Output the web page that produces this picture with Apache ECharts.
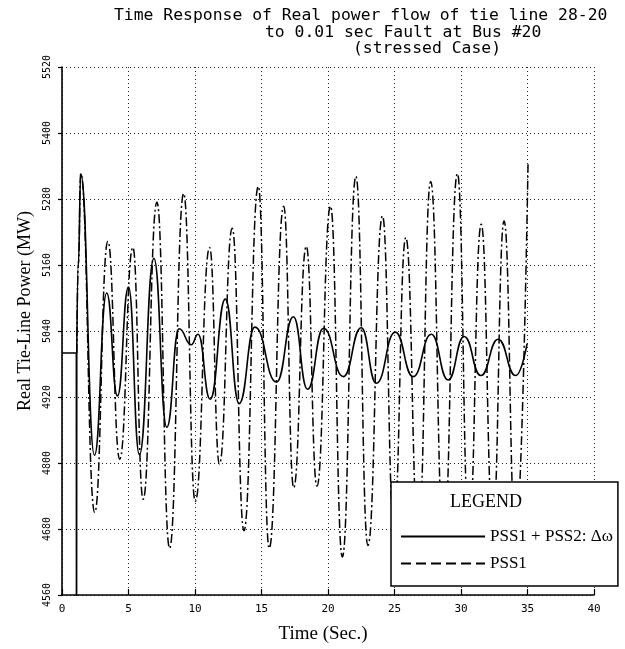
<!DOCTYPE html>
<html>
<head>
<meta charset="utf-8">
<script src="https://cdn.jsdelivr.net/npm/echarts@6/dist/echarts.min.js"></script>
<style>html,body{margin:0;padding:0;background:#fff;}#c{width:625px;height:649px;}</style>
</head>
<body>
<div id="c"></div>
<script>
// ---- data ----
const xTicks = [0, 5, 10, 15, 20, 25, 30, 35, 40];
const yTicks = [4560, 4680, 4800, 4920, 5040, 5160, 5280, 5400, 5520];

// common pre-fault / fault segment (both cases)
const faultTime  = [0, 1.08, 1.09, 1.10, 1.11];
const faultValue = [5000, 5000, 4300, 4300, 5000];

// PSS1 + PSS2 : delta omega (solid)
const pss12Time  = [1.11, 1.23, 1.41, 2.44, 3.36, 4.17, 5.00, 5.82, 6.91, 7.88, 8.80, 9.72, 10.23, 11.14, 12.28, 13.32, 14.50, 16.13, 17.40, 18.46, 19.66, 21.15, 22.50, 23.63, 25.06, 26.40, 27.77, 29.03, 30.24, 31.49, 32.79, 34.11, 34.97];
const pss12Value = [5000, 5162, 5326, 4814, 5109, 4922, 5120, 4815, 5172, 4865, 5044, 5015, 5034, 4916, 5098, 4908, 5047, 4947, 5066, 4934, 5045, 4957, 5046, 4945, 5038, 4957, 5034, 4951, 5030, 4959, 5025, 4959, 5017];

// PSS1 only (dash-dot)
const pss1Time  = [1.11, 1.23, 1.41, 2.46, 3.45, 4.34, 5.33, 6.10, 7.14, 8.09, 9.15, 10.02, 11.10, 11.84, 12.80, 13.68, 14.76, 15.58, 16.67, 17.42, 18.37, 19.17, 20.19, 21.08, 22.10, 23.00, 24.10, 24.95, 25.85, 26.80, 27.72, 28.70, 29.73, 30.60, 31.52, 32.40, 33.24, 34.10, 35.04];
const pss1Value = [5000, 5162, 5326, 4710, 5203, 4807, 5192, 4734, 5274, 4645, 5290, 4730, 5192, 4798, 5227, 4677, 5303, 4645, 5267, 4755, 5194, 4758, 5267, 4629, 5321, 4650, 5249, 4690, 5210, 4670, 5312, 4660, 5326, 4680, 5234, 4690, 5240, 4670, 5343];

const titleLines = ['Time Response of Real power flow of tie line 28-20', 'to 0.01 sec Fault at Bus #20', '(stressed Case)'];
const seriesNames = ['PSS1 + PSS2: \u0394\u03c9', 'PSS1'];

const zip = (a, b) => a.map((v, i) => [v, b[i]]);

const chart = echarts.init(document.getElementById('c'));
const monoTitle = {fontFamily: 'DejaVu Sans Mono', fontSize: 16.4, fontWeight: 'normal', color: '#000'};
const serif = 'Liberation Serif';

chart.setOption({
  animation: false,
  backgroundColor: '#fff',
  title: [
    {text: titleLines[0], left: 114, top: 8, padding: 0, textStyle: monoTitle},
    {text: titleLines[1], left: 265, top: 25, padding: 0, textStyle: monoTitle},
    {text: titleLines[2], left: 353, top: 41, padding: 0, textStyle: monoTitle},
    {text: 'LEGEND', left: 450, top: 493, padding: 0, z: 20,
     textStyle: {fontFamily: serif, fontSize: 18, fontWeight: 'normal', color: '#000'}}
  ],
  grid: {left: 62, right: 31, top: 67, bottom: 53, containLabel: false},
  xAxis: {
    type: 'value', min: xTicks[0], max: xTicks[xTicks.length - 1], interval: 5,
    name: 'Time (Sec.)', nameLocation: 'middle', nameGap: 30,
    nameTextStyle: {fontFamily: serif, fontSize: 19, color: '#000', padding: [0, 10, 0, 0]},
    axisLine: {show: true, onZero: false, lineStyle: {color: '#000', width: 1.6}},
    axisTick: {show: true, inside: true, length: 6, lineStyle: {color: '#000', width: 1.2}},
    axisLabel: {fontFamily: 'DejaVu Sans Mono', fontSize: 11, color: '#000', margin: 9},
    splitLine: {show: true, lineStyle: {type: [1, 3], color: '#222', width: 1}}
  },
  yAxis: {
    type: 'value', min: yTicks[0], max: yTicks[yTicks.length - 1], interval: 120,
    name: 'Real Tie-Line Power (MW)', nameLocation: 'middle', nameGap: 28, nameRotate: 90,
    nameTextStyle: {fontFamily: serif, fontSize: 18, color: '#000', padding: [0, 0, 0, 40]},
    axisLine: {show: true, onZero: false, lineStyle: {color: '#000', width: 1.6}},
    axisTick: {show: true, inside: false, length: 4, lineStyle: {color: '#000', width: 1.2}},
    axisLabel: {rotate: 90, fontFamily: 'DejaVu Sans Mono', fontSize: 10, color: '#000', margin: 10,
                formatter: v => String(v)},
    splitLine: {show: true, lineStyle: {type: [1, 3], color: '#222', width: 1}}
  },
  legend: {
    orient: 'vertical', left: 391, top: 482,
    padding: [46, 5, 14, 9], itemGap: 10, itemWidth: 84, itemHeight: 14,
    backgroundColor: '#fff', borderColor: '#000', borderWidth: 1.5,
    selectedMode: false,
    textStyle: {fontFamily: serif, fontSize: 17, color: '#000'},
    data: [
      {name: seriesNames[0], itemStyle: {opacity: 0}},
      {name: seriesNames[1], itemStyle: {opacity: 0}, lineStyle: {type: [10, 5]}}
    ]
  },
  series: [
    {
      name: 'fault', type: 'line', data: zip(faultTime, faultValue), smooth: false,
      symbol: 'none', itemStyle: {color: '#000'}, lineStyle: {color: '#000', width: 1.6}, z: 3
    },
    {
      name: seriesNames[0], type: 'line', data: zip(pss12Time, pss12Value), smooth: 0.5, smoothMonotone: 'x',
      symbol: 'none', itemStyle: {color: '#000'}, lineStyle: {color: '#000', width: 1.6}, z: 3
    },
    {
      name: seriesNames[1], type: 'line', data: zip(pss1Time, pss1Value), smooth: 0.5, smoothMonotone: 'x',
      symbol: 'none', itemStyle: {color: '#000'}, lineStyle: {color: '#000', width: 1.5, type: [9, 3, 2, 3]}, z: 2
    }
  ]
});
</script>
</body>
</html>
